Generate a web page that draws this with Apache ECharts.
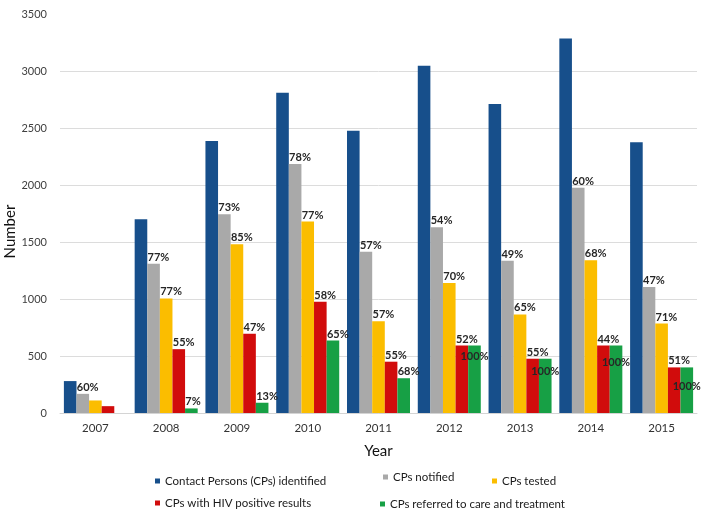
<!DOCTYPE html>
<html>
<head>
<meta charset="utf-8">
<script src="https://cdn.jsdelivr.net/npm/echarts@6/dist/echarts.min.js"></script>
<style>
html,body{margin:0;padding:0;background:#fff;}
#chart{width:709px;height:520px;}
</style>
</head>
<body>
<div id="chart"></div>
<script>
var years = ['2007','2008','2009','2010','2011','2012','2013','2014','2015'];
var seriesNames = ['Contact Persons (CPs) identified','CPs notified','CPs tested','CPs with HIV positive results','CPs referred to care and treatment'];
var identified = [280, 1700, 2385, 2810, 2475, 3045, 2710, 3285, 2375];
var notified   = [168, 1310, 1743, 2185, 1415, 1630, 1335, 1975, 1105];
var tested     = [110, 1005, 1480, 1680, 805, 1140, 865, 1340, 785];
var positive   = [60, 560, 695, 975, 450, 592, 476, 592, 400];
var referred   = [0, 40, 90, 635, 305, 592, 476, 592, 400];
var notifiedPct = ['60%','77%','73%','78%','57%','54%','49%','60%','47%'];
var testedPct   = ['','77%','85%','77%','57%','70%','65%','68%','71%'];
var positivePct = ['','55%','47%','58%','55%','52%','55%','44%','51%'];
var referredPct = ['','7%','13%','65%','68%','100%','100%','100%','100%'];
var yTicks = [0, 500, 1000, 1500, 2000, 2500, 3000, 3500];

var colors = ['#174f8b', '#a9a9a9', '#fbbd00', '#d10c0c', '#17a045'];
var FONT = 'Lato';
var insideDy = [0, 0, 0, 0, 0, 0, 2, 6, 9];

var chart = echarts.init(document.getElementById('chart'), null, {renderer: 'canvas'});

var topLabel = {
  show: true, position: 'top', align: 'left', offset: [-6, 0], distance: 1,
  fontFamily: FONT, fontSize: 11, fontWeight: 'bold', color: '#262626'
};

function mk(idx, values, pcts) {
  return {
    name: seriesNames[idx], type: 'bar', barWidth: 12.6, barGap: '0%',
    itemStyle: {color: colors[idx]},
    data: values.map(function (v, i) {
      var d = {value: v};
      if (pcts) {
        if (pcts[i] === '') {
          d.label = {show: false};
        } else if (pcts[i] === '100%') {
          d.label = {show: true, position: 'insideTop', align: 'center', distance: 5,
            offset: [0, insideDy[i]], fontFamily: FONT, fontSize: 11, fontWeight: 'bold', color: '#262626',
            formatter: pcts[i]};
        } else {
          d.label = Object.assign({}, topLabel, {formatter: pcts[i]});
        }
      }
      return d;
    }),
    label: {show: false}
  };
}

function leg(idx, left, top) {
  return {
    data: [seriesNames[idx]], left: left, top: top, icon: 'rect',
    itemWidth: 5, itemHeight: 5, padding: 0, selectedMode: false,
    textStyle: {fontFamily: FONT, fontSize: 11.5, color: '#1a1a1a', padding: [0,0,0,0]}
  };
}

var option = {
  backgroundColor: '#ffffff',
  animation: false,
  textStyle: {fontFamily: FONT},
  grid: {left: 60, right: 12, top: 14, bottom: 107, containLabel: false, outerBoundsMode: 'none'},
  legend: [
    leg(0, 155, 475),
    leg(1, 383, 471),
    leg(2, 492, 475),
    leg(3, 155, 497),
    leg(4, 380, 498)
  ],
  xAxis: {
    type: 'category', data: years,
    name: 'Year', nameLocation: 'middle', nameGap: 31, nameMoveOverlap: false,
    nameTextStyle: {fontFamily: FONT, fontSize: 15, color: '#111'},
    axisLine: {show: true, lineStyle: {color: '#d4d4d4', width: 1}},
    axisTick: {show: false},
    axisLabel: {fontFamily: FONT, fontSize: 11.5, color: '#333', margin: 9}
  },
  yAxis: {
    type: 'value', min: yTicks[0], max: yTicks[yTicks.length - 1], interval: yTicks[1] - yTicks[0],
    name: 'Number', nameLocation: 'middle', nameGap: 42, nameMoveOverlap: false,
    nameTextStyle: {fontFamily: FONT, fontSize: 15, color: '#111', padding: [0, 36, 0, 0]},
    axisLine: {show: false}, axisTick: {show: false},
    axisLabel: {fontFamily: FONT, fontSize: 11, color: '#404040', margin: 13,
      formatter: function (v) { return String(v); }},
    splitLine: {show: true, showMaxLine: false, lineStyle: {color: '#dcdcdc', width: 1}}
  },
  series: [
    mk(0, identified, null),
    mk(1, notified, notifiedPct),
    mk(2, tested, testedPct),
    mk(3, positive, positivePct),
    mk(4, referred, referredPct)
  ]
};
chart.setOption(option);
</script>
</body>
</html>
